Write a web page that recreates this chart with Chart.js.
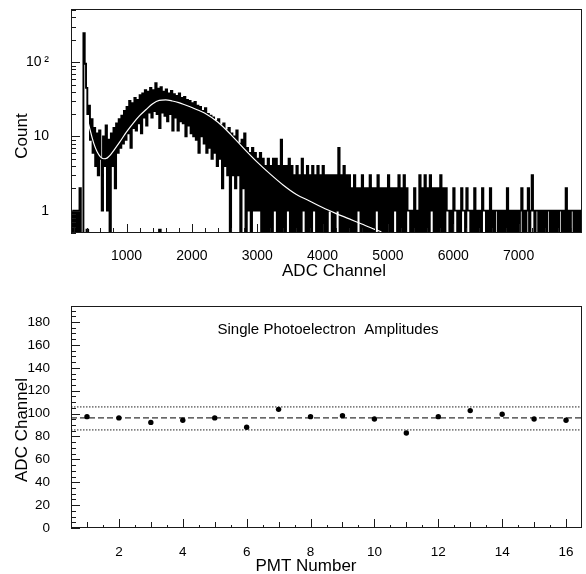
<!DOCTYPE html>
<html>
<head>
<meta charset="utf-8">
<script src="https://cdn.jsdelivr.net/npm/chart.js@4"></script>
<style>
  html, body { margin: 0; padding: 0; background: #fff; }
  #wrap { position: relative; width: 586px; height: 574px; }
  .panel { position: absolute; left: 0; width: 586px; }
  #top { top: 0; height: 290px; }
  #bottom { top: 290px; height: 284px; }
</style>
</head>
<body>
<div id="wrap">
  <div class="panel" id="top"><canvas id="spectrum" width="586" height="290"></canvas></div>
  <div class="panel" id="bottom"><canvas id="amplitudes" width="586" height="284"></canvas></div>
</div>
<script>
// ---- ADC spectrum, 20-channel bins starting at channel 160 ----
const binStart = 160;
const binWidth = 20;
const counts = [
  1, 0, 1, 0, 1, 0, 2, 0, 0, 245,          // 160
  95, 45, 20, 26, 9, 17, 6, 13, 4, 11,      // 360
  3, 12, 5, 1, 10, 4, 14, 1, 9, 0,          // 560
  11, 4, 13, 2, 15, 6, 17, 7, 19, 8,        // 760
  22, 9, 25, 11, 30, 7, 28, 13, 33, 12,     // 960
  31, 15, 36, 11, 38, 18, 42, 14, 40, 21,   // 1160
  45, 18, 42, 22, 52, 20, 44, 13, 46, 21,   // 1360
  40, 19, 43, 16, 38, 20, 41, 12, 37, 18,   // 1560
  35, 12, 38, 16, 33, 15, 34, 10, 31, 14,   // 1760
  30, 11, 28, 10, 29, 9, 26, 6, 25, 10,     // 1960
  22, 8, 24, 6, 20, 7, 19, 5, 18, 6,        // 2160
  16, 4, 17, 5, 14, 2, 15, 4, 12, 3,        // 2360
  13, 0, 11, 3, 10, 2, 12, 3, 8, 0,         // 2560
  9, 2, 11, 0, 7, 1, 6, 0, 7, 1,            // 2760
  6, 1, 5, 1, 6, 0, 5, 0, 4, 0,             // 2960
  5, 0, 4, 0, 5, 1, 5, 0, 4, 0,             // 3160
  9, 0, 4, 0, 4, 1, 5, 0, 4, 0,             // 3360
  3, 0, 4, 0, 3, 0, 5, 1, 3, 0,             // 3560
  4, 0, 3, 0, 4, 1, 3, 0, 4, 0,             // 3760
  3, 0, 4, 0, 3, 0, 3, 1, 3, 0,             // 3960
  3, 0, 3, 1, 7, 0, 3, 0, 4, 0,             // 4160
  3, 0, 3, 0, 2, 0, 3, 0, 2, 1,             // 4360
  2, 0, 3, 0, 2, 0, 2, 0, 3, 0,             // 4560
  2, 0, 2, 1, 3, 0, 2, 0, 2, 0,             // 4760
  2, 0, 3, 0, 2, 0, 2, 1, 2, 0,             // 4960
  3, 0, 2, 0, 3, 0, 2, 1, 1, 0,             // 5160
  1, 0, 2, 0, 1, 0, 3, 0, 2, 0,             // 5360
  3, 0, 2, 0, 3, 1, 2, 0, 2, 0,             // 5560
  2, 0, 3, 0, 2, 0, 2, 1, 1, 0,             // 5760
  1, 0, 2, 1, 1, 0, 1, 0, 2, 1,             // 5960
  1, 0, 2, 1, 1, 0, 1, 0, 2, 0,             // 6160
  1, 0, 1, 0, 2, 1, 1, 0, 1, 0,             // 6360
  2, 0, 1, 0, 1, 1, 0, 1, 0, 1,             // 6560
  0, 1, 0, 2, 0, 1, 0, 1, 0, 1,             // 6760
  0, 1, 0, 1, 2, 0, 1, 0, 1, 2,             // 6960
  0, 1, 3, 1, 0, 1, 1, 0, 1, 0,             // 7160
  1, 0, 1, 0, 1, 1, 0, 1, 0, 1,             // 7360
  0, 1, 0, 1, 1, 0, 1, 0, 2, 0,             // 7560
  1, 0, 1, 1, 0, 1, 0, 1, 0, 1,             // 7760
  0, 1                                      // 7960
];

// fitted curve (white line)
const fitAdc = [400, 450, 500, 550, 600, 650, 700, 750, 800, 900, 1000, 1100, 1200, 1300,
  1400, 1500, 1600, 1700, 1800, 1900, 2000, 2100, 2200, 2400, 2600, 2800, 3000, 3200,
  3400, 3600, 3800, 4000, 4200, 4400, 4600, 4800, 4900];
const fitCount = [17, 11.5, 8, 6.2, 5.3, 5.0, 5.1, 5.6, 6.4, 8.5, 11.5, 15, 19, 23,
  27.5, 30.5, 31, 30, 28.5, 26.5, 24.5, 22.5, 20.5, 15.5, 10.5, 6.8, 4.5, 3.1,
  2.2, 1.65, 1.35, 1.1, 0.92, 0.78, 0.66, 0.56, 0.52];

// small markers sitting on the bottom axis
const markerAdc = [400, 1510];
const markerCount = [0.54, 0.54];

const spectrumXTicks = [1000, 2000, 3000, 4000, 5000, 6000, 7000];
const spectrumYTicks = [1, 10, 100];

// ---- single photoelectron amplitudes per PMT ----
const pmtNumber = [1, 2, 3, 4, 5, 6, 7, 8, 9, 10, 11, 12, 13, 14, 15, 16];
const speAmplitude = [97.3, 96.2, 92.3, 94.1, 96.2, 88, 103.7, 97.3, 98.2, 95.3, 83, 97.3, 102.6, 99.4, 95.3, 94.1];
const meanAmplitude = 96.2;
const bandLow = 85.7;
const bandHigh = 105.8;

const pmtXTicks = [2, 4, 6, 8, 10, 12, 14, 16];
const pmtYTicks = [0, 20, 40, 60, 80, 100, 120, 140, 160, 180];

Chart.defaults.font.family = "'Liberation Sans', Arial, sans-serif";
Chart.defaults.color = '#000';

// frame, inward tick marks and axis titles (PAW style)
function pawFrame(cfg) {
  return {
    id: 'pawFrame',
    afterDatasetsDraw(chart) {
      const { ctx, chartArea: a } = chart;
      const xs = chart.scales.x, ys = chart.scales.y;
      ctx.save();
      ctx.strokeStyle = '#1a1a1a';
      ctx.lineWidth = 1;
      ctx.beginPath();
      cfg.xTicks.forEach(t => {
        const px = Math.round(xs.getPixelForValue(t.v)) + 0.5;
        ctx.moveTo(px, a.bottom);
        ctx.lineTo(px, a.bottom - t.len);
      });
      cfg.yTicks.forEach(t => {
        const py = Math.round(ys.getPixelForValue(t.v)) + 0.5;
        ctx.moveTo(a.left, py);
        ctx.lineTo(a.left + t.len, py);
      });
      ctx.stroke();
      ctx.strokeRect(a.left + 0.5, a.top + 0.5, a.width - 1, a.height - 1);
      ctx.fillStyle = '#000';
      cfg.texts.forEach(t => {
        ctx.save();
        ctx.font = t.font;
        ctx.textAlign = 'center';
        ctx.textBaseline = 'middle';
        ctx.translate(t.x, t.y);
        if (t.rotate) ctx.rotate(-Math.PI / 2);
        ctx.fillText(t.text, 0, 0);
        ctx.restore();
      });
      ctx.restore();
    }
  };
}

const FONT = "'Liberation Sans', Arial, sans-serif";

function fixedBox(size, horizontal) {
  return s => {
    if (horizontal) s.height = size; else s.width = size;
    s.paddingTop = s.paddingBottom = s.paddingLeft = s.paddingRight = 0;
  };
}

// ---------- top: spectrum ----------
const specXMinor = [];
for (let v = 200; v <= 7800; v += 200) specXMinor.push({ v, len: v % 1000 === 0 ? 9 : 5 });
const specYMinor = [];
[0.1, 1, 10, 100].forEach(d => {
  for (let m = 1; m <= 9; m++) {
    const v = m * d;
    if (v >= 0.5 && v <= 520) specYMinor.push({ v, len: m === 1 ? 9 : 5 });
  }
});

new Chart(document.getElementById('spectrum'), {
  type: 'line',
  data: {
    datasets: [
      {
        label: 'fit',
        data: fitAdc.map((x, i) => ({ x, y: fitCount[i] })),
        borderColor: '#fff',
        borderWidth: 1.2,
        pointRadius: 0,
        cubicInterpolationMode: 'monotone',
        order: 0
      },
      {
        label: 'markers',
        data: markerAdc.map((x, i) => ({ x, y: markerCount[i] })),
        showLine: false,
        pointStyle: 'rect',
        pointRadius: 2.5,
        pointBackgroundColor: '#000',
        pointBorderWidth: 0,
        order: 1
      },
      {
        label: 'counts',
        data: counts.map((c, i) => ({ x: binStart + binWidth * (i + 0.5), y: c > 0 ? c : 0.1 })),
        borderColor: '#000',
        borderWidth: 1.9,
        pointRadius: 0,
        stepped: 'middle',
        order: 2
      }
    ]
  },
  options: {
    responsive: false,
    animation: false,
    layout: { padding: { top: 9, right: 3, left: 0, bottom: 0 } },
    plugins: { legend: { display: false }, tooltip: { enabled: false } },
    scales: {
      x: {
        type: 'linear', min: 150, max: 7970,
        grid: { display: false }, border: { display: false },
        afterBuildTicks: s => { s.ticks = spectrumXTicks.map(v => ({ value: v })); },
        afterFit: fixedBox(57, true),
        ticks: { padding: 7, font: { size: 14 }, color: '#000', maxRotation: 0, autoSkip: false, callback: v => String(v) }
      },
      y: {
        type: 'logarithmic', min: 0.5, max: 520,
        grid: { display: false }, border: { display: false },
        afterBuildTicks: s => { s.ticks = spectrumYTicks.map(v => ({ value: v })); },
        afterFit: fixedBox(71, false),
        ticks: { padding: 14, font: { size: 14 }, color: '#000', autoSkip: false, callback: v => v === 100 ? '10\u2009\u00B2' : String(v) }
      }
    }
  },
  plugins: [pawFrame({
    xTicks: specXMinor,
    yTicks: specYMinor,
    texts: [
      { text: 'Count', x: 22, y: 136, rotate: true, font: '17px ' + FONT },
      { text: 'ADC Channel', x: 334, y: 271, font: '17px ' + FONT }
    ]
  })]
});

// ---------- bottom: PMT amplitudes ----------
const pmtXMinor = [];
for (let v = 1; v <= 16; v += 0.5) pmtXMinor.push({ v, len: v % 2 === 0 ? 9 : (Number.isInteger(v) ? 6 : 3) });
const pmtYMinor = [];
for (let v = 0; v <= 190; v += 5) pmtYMinor.push({ v, len: v % 20 === 0 ? 9 : 5 });

const xLo = 0.5, xHi = 16.5;

new Chart(document.getElementById('amplitudes'), {
  type: 'scatter',
  data: {
    datasets: [
      {
        label: 'PMT',
        data: pmtNumber.map((x, i) => ({ x, y: speAmplitude[i] })),
        backgroundColor: '#000',
        borderWidth: 0,
        pointRadius: 2.7
      },
      {
        label: 'mean',
        data: [{ x: xLo, y: meanAmplitude }, { x: xHi, y: meanAmplitude }],
        showLine: true, pointRadius: 0,
        borderColor: '#000', borderWidth: 1, borderDash: [6, 3]
      },
      {
        label: 'high',
        data: [{ x: xLo, y: bandHigh }, { x: xHi, y: bandHigh }],
        showLine: true, pointRadius: 0,
        borderColor: '#222', borderWidth: 1, borderDash: [1.5, 1.5]
      },
      {
        label: 'low',
        data: [{ x: xLo, y: bandLow }, { x: xHi, y: bandLow }],
        showLine: true, pointRadius: 0,
        borderColor: '#222', borderWidth: 1, borderDash: [1.5, 1.5]
      }
    ]
  },
  options: {
    responsive: false,
    animation: false,
    layout: { padding: { top: 16, right: 3, left: 0, bottom: 0 } },
    plugins: { legend: { display: false }, tooltip: { enabled: false } },
    scales: {
      x: {
        type: 'linear', min: xLo, max: xHi,
        grid: { display: false }, border: { display: false },
        afterBuildTicks: s => { s.ticks = pmtXTicks.map(v => ({ value: v })); },
        afterFit: fixedBox(46, true),
        ticks: { padding: 8, font: { size: 13.5 }, color: '#000', maxRotation: 0, autoSkip: false }
      },
      y: {
        type: 'linear', min: 0, max: 194,
        grid: { display: false }, border: { display: false },
        afterBuildTicks: s => { s.ticks = pmtYTicks.map(v => ({ value: v })); },
        afterFit: fixedBox(71, false),
        ticks: { padding: 13, font: { size: 13.5 }, color: '#000', autoSkip: false }
      }
    }
  },
  plugins: [pawFrame({
    xTicks: pmtXMinor,
    yTicks: pmtYMinor,
    texts: [
      { text: 'ADC Channel', x: 22, y: 140, rotate: true, font: '17px ' + FONT },
      { text: 'PMT Number', x: 306, y: 276, font: '17px ' + FONT },
      { text: 'Single Photoelectron  Amplitudes', x: 328, y: 40, font: '15px ' + FONT }
    ]
  })]
});
</script>
</body>
</html>
